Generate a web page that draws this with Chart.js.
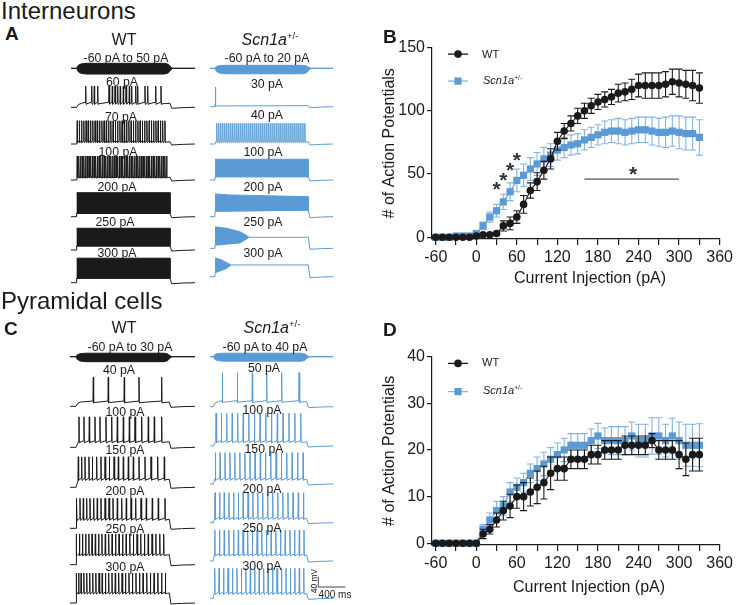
<!DOCTYPE html>
<html><head><meta charset="utf-8"><title>Scn1a firing</title>
<script src="https://cdn.jsdelivr.net/npm/chart.js@4.4.1/dist/chart.umd.min.js"></script>
<style>
html,body{margin:0;padding:0;background:#fff}
body{position:relative;width:736px;height:605px;overflow:hidden;font-family:"Liberation Sans",Arial,Helvetica,sans-serif;color:#1a1a1a}
canvas{position:absolute}
.tx{position:absolute;white-space:nowrap;line-height:1}
sup{font-size:0.6em;vertical-align:0.6em;line-height:0;font-style:normal}
</style></head><body>
<canvas id="cA"></canvas><canvas id="cC"></canvas><canvas id="cB"></canvas><canvas id="cD"></canvas>
<script>
// ================= DATA =================
const currentSteps = [-60,-50,-40,-30,-20,-10,0,10,20,30,40,50,60,70,80,90,100,110,120,130,140,150,160,170,180,190,200,210,220,230,240,250,260,270,280,290,300,310,320,330];
const xTickValues = [-60,-30,0,30,60,90,120,150,180,210,240,270,300,330,360];
const yTicksB = [0,50,100,150];
const yTicksD = [0,10,20,30,40];
const seriesNames = ['WT','Scn1a+/-'];

// B: interneurons, # of action potentials (mean, SEM)
const B_WT      = [0,0,0,0,0,0,1,2,2,3, 9,11,16,26,37,44,53,62,76,84, 90,96,100,104,107,109,111,114,115,117, 120,120,120,120,121,123,122,121,120,118];
const B_WT_sem  = [0,0,0,0,0,0,1,1,1,1, 4,5,5,7,6,7,7,8,7,6, 6,6,6,6,6,6,6,7,7,8, 9,10,10,10,10,10,11,11,12,12];
const B_SCN     = [0,0,0,1,1,1,3,9,16,21, 28,36,45,49,54,58,62,65,69,71, 73,74,77,79,81,83,84,84,83,84, 85,85,84,83,83,84,83,82,82,79];
const B_SCN_sem = [0,0,0,0,1,1,2,3,4,5, 6,7,9,9,9,9,9,9,8,8, 8,8,8,8,8,9,9,10,10,10, 10,10,11,11,12,12,13,13,13,14];
// D: pyramidal cells
const D_WT      = [0,0,0,0,0,0,0,2,3,5, 7,8,10,10,11,12,13,15,16,16, 18,18,18,19,19,20,20,20,21,21, 21,21,22,20,20,20,19,18,19,19];
const D_WT_sem  = [0,0,0,0,0,0,0,1,1,1.5, 2,2.5,2.5,3,3,3.5,3.5,3.5,2.5,2.5, 2,2,2,2,2,2,2,2,2,2, 2,2,1.5,2,2,2,3,3.5,3.5,3.5];
const D_SCN     = [0,0,0,0,0,0,0,3,5,7, 8,11,12,13,15,16,17,18,19,20, 21,21,21,22,23,22,22,22,22,23, 22,22,23,23,22,23,22,21,21,21];
const D_SCN_sem = [0,0,0,0,0,0,0,1,1.5,2, 2,2,2,2,2,2.5,2.5,2.5,2.5,2.5, 2.5,2.5,2.5,2.5,2.7,2.7,3,3,3,3, 3.5,3.5,3.9,3.9,3.5,3.8,4,4.5,4.5,4.6];
// significance marks in B (pA, # APs)
const B_starX = [30,40,50,60];
const B_starY = [41,48,56,64];
const B_barX = [160,300], B_barY = 46, B_barStar = [232,53];

// ---- example sweeps (time in ms from sweep start, voltage in mV relative to rest) ----
const A_WT_sweep  = {on:84, off:1467, end:1837};
const A_SCN_sweep = {on:74, off:1456, end:1822};
const C_WT_sweep  = {on:89, off:1471, end:1852};
const C_SCN_sweep = {on:49, off:1432, end:1822};

const A_WT_labels  = ['-60 pA to 50 pA','60 pA','70 pA','100 pA','200 pA','250 pA','300 pA'];
const A_SCN_labels = ['-60 pA to 20 pA','30 pA','40 pA','100 pA','200 pA','250 pA','300 pA'];
const C_WT_labels  = ['-60 pA to 30 pA','40 pA','100 pA','150 pA','200 pA','250 pA','300 pA'];
const C_SCN_labels = ['-60 pA to 40 pA','50 pA','100 pA','150 pA','200 pA','250 pA','300 pA'];

const A_WT_60pA_spikes  = [218,307,345,396,563,612,652,692,730,775,815,864,899,959,988,1096,1136,1255,1333];
const A_WT_70pA_spikes  = [92,124,157,190,223,256,290,323,356,390,423,457,490,523,557,590,624,657,690,724,757,790,824,857,891,924,957,991,1024,1057,1091,1124,1158,1191,1224,1258,1291,1325,1358,1392];
const A_WT_100pA_spikes = [92,117,142,167,192,217,242,267,292,317,342,367,392,417,442,467,492,517,542,567,592,617,642,667,692,717,742,767,792,817,842,867,892,917,942,967,992,1017,1042,1067,1092,1117,1142,1167,1192,1217,1242,1267,1292,1317,1342,1367,1392,1417];
const A_SCN_30pA_spikes = [80];
const A_SCN_40pA_spikes = [100,130,159,189,219,248,278,308,337,367,397,426,456,486,515,545,575,604,634,664,693,723,753,782,812,842,871,901,931,960,990,1020,1049,1079,1109,1138,1168,1198,1227,1257,1287,1316,1346,1376,1405];
const A_WT_200pA_env  = {top:[[84,96],[1467,96]], bottom:[[84,13],[1467,13]]};
const A_WT_250pA_env  = {top:[[84,87],[1467,87]], bottom:[[84,16],[1467,16]]};
const A_WT_300pA_env  = {top:[[84,98],[1467,98]], bottom:[[84,18],[1467,18]]};
const A_SCN_100pA_env = {top:[[74,83],[1456,83]], bottom:[[74,13],[1456,13]]};
const A_SCN_200pA_env = {top:[[74,91],[300,87],[1456,80]], bottom:[[74,22],[1456,26]]};
const A_SCN_250pA_env = {top:[[74,86],[250,80],[444,66],[520,55],[567,46]], bottom:[[74,13],[444,22],[567,42]]};
const A_SCN_250pA_tail = [[567,44],[1456,44]];
const A_SCN_300pA_env = {top:[[74,74],[150,70],[247,56],[296,49]], bottom:[[74,16],[247,34],[296,45]]};
const A_SCN_300pA_tail = [[296,47],[1456,47]];

const C_WT_40pA_spikes  = [345,567,804,1022,1358];
const C_WT_100pA_spikes = [133,207,286,370,444,533,618,701,790,879,963,1062,1160,1249,1358];
const C_WT_150pA_spikes = [123,173,222,281,331,395,459,519,583,652,716,790,864,938,1022,1111,1200,1299,1397];
const C_WT_200pA_spikes = [99,148,197,247,296,351,404,459,519,578,637,701,766,834,904,973,1052,1130,1219,1308,1407];
const C_WT_200pA_late   = [1605];
const C_WT_250pA_spikes = [95,140,185,232,279,327,375,424,473,523,573,624,675,727,779,832,885,939,993,1048,1103,1159,1215,1272,1330,1388];
const C_WT_300pA_spikes = [95,128,165,205,248,292,337,383,430,477,525,573,622,671,721,771,822,873,925,977,1030,1083,1137,1191,1246,1301,1357,1413];
const C_SCN_50pA_spikes  = [183,405,627,840,1062,1319];
const C_SCN_100pA_spikes = [89,168,248,329,410,492,575,658,742,826,911,997,1083,1170,1257,1345];
const C_SCN_150pA_spikes = [80,150,222,295,368,442,517,592,668,745,822,900,978,1057,1137,1217,1298,1380];
const C_SCN_200pA_spikes = [75,143,211,280,350,420,491,563,635,708,781,855,929,1004,1079,1155,1231,1308,1385];
const C_SCN_250pA_spikes = [72,141,211,280,350,419,489,558,628,697,767,836,906,975,1045,1114,1184,1253,1323,1392];
const C_SCN_300pA_spikes = [70,135,201,267,333,399,465,531,597,663,729,795,861,927,993,1059,1125,1191,1257,1323,1389];
const scaleBar = {ms:400, mV:40};

// ================= STYLE / LAYOUT =================
const FONT = '"Liberation Sans", Arial, Helvetica, sans-serif';
const INK = '#1a1a1a', BLUE = '#5b9bd5', BLUE_ERR = '#84b3e2';
const PX_PER_MS = 0.0675, PX_PER_MV = 0.25;

const A_WT_traces = [
  {kind:'family', up:20, down:-23},
  {kind:'spikes', plat:16, peak:85, ahp:4, spikes:A_WT_60pA_spikes},
  {kind:'spikes', plat:9, peak:93, ahp:3, spikes:A_WT_70pA_spikes},
  {kind:'spikes', plat:11, peak:96, ahp:3, spikes:A_WT_100pA_spikes},
  {kind:'block', env:A_WT_200pA_env},
  {kind:'block', env:A_WT_250pA_env},
  {kind:'block', env:A_WT_300pA_env}
];
const A_SCN_traces = [
  {kind:'family', up:12, down:-22},
  {kind:'spikes', plat:4, peak:78, ahp:2, spikes:A_SCN_30pA_spikes},
  {kind:'spikes', plat:9, peak:83, ahp:3, spikes:A_SCN_40pA_spikes},
  {kind:'block', env:A_SCN_100pA_env},
  {kind:'block', env:A_SCN_200pA_env},
  {kind:'block', env:A_SCN_250pA_env, tail:A_SCN_250pA_tail},
  {kind:'block', env:A_SCN_300pA_env, tail:A_SCN_300pA_tail}
];
const C_WT_traces = [
  {kind:'family', up:14, down:-20},
  {kind:'spikes', plat:17, peak:116, ahp:4, spikes:C_WT_40pA_spikes},
  {kind:'spikes', plat:22, peak:122, ahp:4, spikes:C_WT_100pA_spikes},
  {kind:'spikes', plat:32, peak:122, ahp:4, spikes:C_WT_150pA_spikes},
  {kind:'spikes', plat:36, peak:120, ahp:4, spikes:C_WT_200pA_spikes, late:C_WT_200pA_late},
  {kind:'spikes', plat:40, peak:123, ahp:4, spikes:C_WT_250pA_spikes},
  {kind:'spikes', plat:40, peak:120, ahp:4, spikes:C_WT_300pA_spikes}
];
const C_SCN_traces = [
  {kind:'family', up:14, down:-18},
  {kind:'spikes', plat:20, peak:136, ahp:4, spikes:C_SCN_50pA_spikes},
  {kind:'spikes', plat:17, peak:131, ahp:4, spikes:C_SCN_100pA_spikes},
  {kind:'spikes', plat:19, peak:125, ahp:4, spikes:C_SCN_150pA_spikes},
  {kind:'spikes', plat:17, peak:120, ahp:4, spikes:C_SCN_200pA_spikes},
  {kind:'spikes', plat:24, peak:124, ahp:4, spikes:C_SCN_250pA_spikes},
  {kind:'spikes', plat:20, peak:120, ahp:4, spikes:C_SCN_300pA_spikes}
];
// layout: baseline rows (px) and column origins (px)
const A_box = {x:60, y:46, w:290, h:250};
const C_box = {x:60, y:336, w:290, h:269};
const A_rowsWT  = [68.3,107.3,144,180,216.7,250,282.7];
const A_rowsSCN = [68.3,106.7,144,180,216.7,248.3,276.7];
const C_rowsWT  = [356.7,406.3,447.3,487.3,528.3,564.7,603];
const C_rowsSCN = [356.7,406.7,446,484,522.7,561,598.3];

// ================= TRACE BUILDERS =================
function familyPts(sw, tr){
  const e = [[0,0],[sw.on,0],[sw.on+20,0.55],[sw.on+60,0.85],[sw.on+140,1],[sw.off-80,1],[sw.off-25,0.8],[sw.off,0.4],[sw.off+40,0],[sw.end,0]];
  return e.map(([t,f])=>[t,tr.up*f]).concat(e.slice().reverse().map(([t,f])=>[t,tr.down*f]));
}
function spikePts(sw, tr){
  const pts = [[0,0],[sw.on,0]];
  const first = tr.spikes.length ? tr.spikes[0] : Infinity;
  [[25,0.7],[70,1]].forEach(([d,f])=>{ if (sw.on+d < first-6) pts.push([sw.on+d, tr.plat*f]); });
  const add=(t,v)=>{ if (t>pts[pts.length-1][0]) pts.push([t,v]); };
  tr.spikes.forEach(s=>{ add(s-5,tr.plat+4); add(s,tr.peak); add(s+5,tr.plat-tr.ahp); add(s+14,tr.plat-tr.ahp*0.5); });
  add(sw.off,tr.plat); add(sw.off+25,-4); add(sw.off+180,-1.5);
  (tr.late||[]).forEach(s=>{ add(s-5,3); add(s,tr.peak); add(s+5,-4); add(s+60,-1); });
  add(sw.end,0);
  return pts;
}
function blockLinePts(sw, tr){
  const pts = [[0,0],[sw.on,0]].concat(tr.env.bottom);
  (tr.tail||[]).forEach(p=>pts.push(p));
  const last = pts[pts.length-1];
  if (last[0] < sw.off) pts.push([sw.off,last[1]]);
  pts.push([sw.off+25,-4],[sw.off+180,-1.5],[sw.end,0]);
  return pts;
}
function blockPolyPts(tr){ return tr.env.top.concat(tr.env.bottom.slice().reverse()); }

function traceDatasets(box, sw, traces, rows, colX, color){
  const ds = [];
  const xOff = (colX - box.x)/PX_PER_MS;
  traces.forEach((tr,i)=>{
    const yOff = (box.y + box.h - rows[i])/PX_PER_MV;
    const map = pts => pts.map(([t,v])=>({x:xOff+t, y:yOff+v}));
    const mk = (pts, fill) => ({data:map(pts), showLine:true, borderColor:color, backgroundColor:color, borderWidth:1, pointRadius:0, tension:0, fill:fill?'shape':false, clip:false});
    if (tr.kind==='family') ds.push(mk(familyPts(sw,tr), true));
    else if (tr.kind==='spikes') ds.push(mk(spikePts(sw,tr), false));
    else { ds.push(mk(blockLinePts(sw,tr), false)); ds.push(mk(blockPolyPts(tr), true)); }
  });
  return ds;
}
const scaleBarPlugin = {id:'sb', afterDraw(chart, args, o){
  if (!o || o.t0 === undefined) return;
  const {ctx, scales:{x,y}} = chart;
  const x0=x.getPixelForValue(o.t0), x1=x.getPixelForValue(o.t0+scaleBar.ms);
  const y0=y.getPixelForValue(o.v0), y1=y.getPixelForValue(o.v0+scaleBar.mV);
  ctx.save(); ctx.strokeStyle='#444'; ctx.lineWidth=1;
  ctx.beginPath(); ctx.moveTo(x0,y1); ctx.lineTo(x0,y0); ctx.lineTo(x1,y0); ctx.stroke(); ctx.restore();
}};
function traceChart(id, box, datasets, sb){
  const cv = document.getElementById(id);
  cv.width = box.w; cv.height = box.h; cv.style.left = box.x+'px'; cv.style.top = box.y+'px';
  return new Chart(cv, {type:'scatter', data:{datasets},
    options:{responsive:false, animation:false, devicePixelRatio:1, events:[], layout:{padding:0},
      plugins:{legend:{display:false}, tooltip:{enabled:false}, sb: sb||{}},
      scales:{x:{type:'linear', display:false, min:0, max:box.w/PX_PER_MS},
              y:{type:'linear', display:false, min:0, max:box.h/PX_PER_MV}}},
    plugins:[scaleBarPlugin]});
}
traceChart('cA', A_box, [
  ...traceDatasets(A_box, A_WT_sweep, A_WT_traces, A_rowsWT, 71, INK),
  ...traceDatasets(A_box, A_SCN_sweep, A_SCN_traces, A_rowsSCN, 210, BLUE)]);
traceChart('cC', C_box, [
  ...traceDatasets(C_box, C_WT_sweep, C_WT_traces, C_rowsWT, 70, INK),
  ...traceDatasets(C_box, C_SCN_sweep, C_SCN_traces, C_rowsSCN, 210, BLUE)],
  {t0:(318.3-C_box.x)/PX_PER_MS, v0:(C_box.y+C_box.h-587)/PX_PER_MV});

// ================= AP COUNT CHARTS =================
const errorBars = {id:'eb', beforeDatasetDraw(chart, args){
  const ds = chart.data.datasets[args.index]; if (!ds.sem) return;
  const {ctx, scales:{x,y}} = chart;
  ctx.save(); ctx.strokeStyle = ds.semColor; ctx.lineWidth = 1.1;
  ds.data.forEach((p,i)=>{ const e = ds.sem[i]; if (!e) return;
    const px=x.getPixelForValue(p.x), yt=y.getPixelForValue(p.y+e), yb=y.getPixelForValue(p.y-e);
    ctx.beginPath(); ctx.moveTo(px,yt); ctx.lineTo(px,yb);
    ctx.moveTo(px-3.5,yt); ctx.lineTo(px+3.5,yt); ctx.moveTo(px-3.5,yb); ctx.lineTo(px+3.5,yb); ctx.stroke(); });
  ctx.restore();
}};
const legendMarks = {id:'lm', afterDraw(chart, args, o){
  const {ctx, chartArea:a} = chart;
  (o.items||[]).forEach(it=>{
    const x=a.left+26, y=a.top+it.dy;
    ctx.save(); ctx.strokeStyle=it.line; ctx.lineWidth=1.3;
    ctx.beginPath(); ctx.moveTo(x-10,y); ctx.lineTo(x+10,y); ctx.stroke();
    ctx.fillStyle=it.color;
    if (it.shape==='circle'){ ctx.beginPath(); ctx.arc(x,y,3.8,0,Math.PI*2); ctx.fill(); }
    else ctx.fillRect(x-3.6,y-3.6,7.2,7.2);
    ctx.restore();
  });
}};
const sigMarks = {id:'sig', afterDatasetsDraw(chart, args, o){
  if (!o || !o.on) return;
  const {ctx, scales:{x,y}} = chart;
  ctx.save(); ctx.fillStyle='#333'; ctx.strokeStyle='#555'; ctx.lineWidth=1.2;
  ctx.font='bold 21px '+FONT; ctx.textAlign='center'; ctx.textBaseline='middle';
  B_starX.forEach((sx,i)=>ctx.fillText('*', x.getPixelForValue(sx), y.getPixelForValue(B_starY[i])+5));
  const yb=y.getPixelForValue(B_barY);
  ctx.beginPath(); ctx.moveTo(x.getPixelForValue(B_barX[0]),yb); ctx.lineTo(x.getPixelForValue(B_barX[1]),yb); ctx.stroke();
  ctx.fillText('*', x.getPixelForValue(B_barStar[0]), y.getPixelForValue(B_barStar[1])+5);
  ctx.restore();
}};
function apChart(id, box, area, yMin, yMax, yTicks, wt, wtSem, scn, scnSem, pluginOpts){
  const cv = document.getElementById(id);
  cv.width = box.w; cv.height = box.h; cv.style.left = box.x+'px'; cv.style.top = box.y+'px';
  const pts = ys => currentSteps.map((x,i)=>({x, y:ys[i]}));
  const axisCommon = {border:{display:true,color:INK,width:1.2}, grid:{display:true,drawOnChartArea:false,drawTicks:true,color:INK,lineWidth:1.2}};
  return new Chart(cv, {type:'scatter',
    data:{datasets:[
      {label:seriesNames[0], data:pts(wt), sem:wtSem, semColor:INK, showLine:true, borderColor:INK, borderWidth:1.1, backgroundColor:INK, pointBackgroundColor:INK, pointBorderWidth:0, pointRadius:3.8, pointStyle:'circle', clip:false},
      {label:seriesNames[1], data:pts(scn), sem:scnSem, semColor:BLUE_ERR, showLine:true, borderColor:BLUE, borderWidth:1.1, backgroundColor:BLUE, pointBackgroundColor:BLUE, pointBorderWidth:0, pointRadius:5.1, pointStyle:'rect', clip:false}]},
    options:{responsive:false, animation:false, devicePixelRatio:1, events:[],
      layout:{padding:{left:0, top:area.top-box.y, right:box.x+box.w-area.right, bottom:0}},
      plugins:Object.assign({legend:{display:false}, tooltip:{enabled:false}}, pluginOpts),
      scales:{
        x:Object.assign({type:'linear', min:-65.5, max:360,
          afterBuildTicks:s=>{s.ticks=xTickValues.map(v=>({value:v}));},
          afterFit:s=>{s.height=box.y+box.h-area.bottom;},
          ticks:{autoSkip:false, maxRotation:0, padding:3, color:INK, font:{family:FONT,size:16}, callback:v=>(v%60===0?String(v):'')},
          title:{display:false}}, axisCommon, {grid:Object.assign({},axisCommon.grid,{tickLength:6})}),
        y:Object.assign({type:'linear', min:yMin, max:yMax,
          afterBuildTicks:s=>{s.ticks=yTicks.map(v=>({value:v}));},
          afterFit:s=>{s.width=area.left-box.x;},
          ticks:{padding:2, color:INK, font:{family:FONT,size:16}},
          title:{display:true, text:'# of Action Potentials', color:INK, font:{family:FONT,size:16}, padding:{top:4,bottom:0}}},
          axisCommon, {grid:Object.assign({},axisCommon.grid,{tickLength:5})})
      }},
    plugins:[errorBars, legendMarks, sigMarks]});
}
const legendItems = dy => ({items:[{dy:dy[0], shape:'circle', color:INK, line:INK},{dy:dy[1], shape:'rect', color:BLUE, line:BLUE_ERR}]});
apChart('cB', {x:376,y:36,w:360,h:254}, {left:432,right:720,top:46.7,bottom:239}, -1.35, 150, yTicksB, B_WT, B_WT_sem, B_SCN, B_SCN_sem, {lm:legendItems([6.5,33.5]), sig:{on:true}});
apChart('cD', {x:376,y:345,w:360,h:260}, {left:432,right:720,top:355,bottom:545}, -0.36, 40, yTicksD, D_WT, D_WT_sem, D_SCN, D_SCN_sem, {lm:legendItems([6.8,35]), sig:{on:false}});

// ================= TEXT =================
function put(html, x, y, size, o){
  o = o||{};
  const d=document.createElement('div'); d.className='tx'; d.innerHTML=html;
  d.style.fontSize=size+'px'; d.style.left=x+'px'; d.style.top=y+'px'; d.style.color=o.color||'#1a1a1a';
  if (o.bold) d.style.fontWeight='bold';
  let tf = o.left ? 'translate(0,-50%)' : 'translate(-50%,-50%)';
  if (o.rot) tf += ' rotate('+o.rot+'deg)';
  d.style.transform = tf;
  document.body.appendChild(d);
}
const SCN_HTML = '<i>Scn1a</i><sup>+/-</sup>';
put('Interneurons', 1, 11, 24, {left:true});
put('Pyramidal cells', 1, 301, 24, {left:true});
put('A', 5, 33, 19, {left:true, bold:true});
put('C', 4, 327.5, 19, {left:true, bold:true});
put('B', 383, 36, 19, {left:true, bold:true});
put('D', 383, 329, 19, {left:true, bold:true});
put('WT', 124, 40, 16); put(SCN_HTML, 270, 40, 16);
put('WT', 124, 328, 16); put(SCN_HTML, 272, 328, 16);
const A_WT_lx=[126,122,121,118,117,115,117], A_WT_ly=[58,81.7,116.7,151.7,187.3,222.3,253.3];
const A_SC_lx=[267,267,267,263,263,263,263], A_SC_ly=[58,84,115,151.7,187.3,222.3,253.3];
const C_WT_lx=[130,119,125,125,125,125,125], C_WT_ly=[346.7,370,411.7,450,490.7,529.3,566.7];
const C_SC_lx=[265,264,262,264,262,262,262], C_SC_ly=[346.7,368.3,410,449,489.3,528.3,565.7];
A_WT_labels.forEach((t,i)=>put(t, A_WT_lx[i], A_WT_ly[i], 12.3));
A_SCN_labels.forEach((t,i)=>put(t, A_SC_lx[i], A_SC_ly[i], 12.3));
C_WT_labels.forEach((t,i)=>put(t, C_WT_lx[i], C_WT_ly[i], 12.3));
C_SCN_labels.forEach((t,i)=>put(t, C_SC_lx[i], C_SC_ly[i], 12.3));
put(scaleBar.mV+' mV', 313.5, 581, 8.5, {rot:-90});
put(scaleBar.ms+' ms', 335, 595, 10);
put('Current Injection (pA)', 590, 278, 16);
put('Current Injection (pA)', 589, 587, 16);
put('WT', 482, 53.5, 11, {left:true}); put(SCN_HTML, 483, 80, 11, {left:true});
put('WT', 482, 362, 11, {left:true}); put(SCN_HTML, 483, 390, 11, {left:true});
</script>
</body></html>
